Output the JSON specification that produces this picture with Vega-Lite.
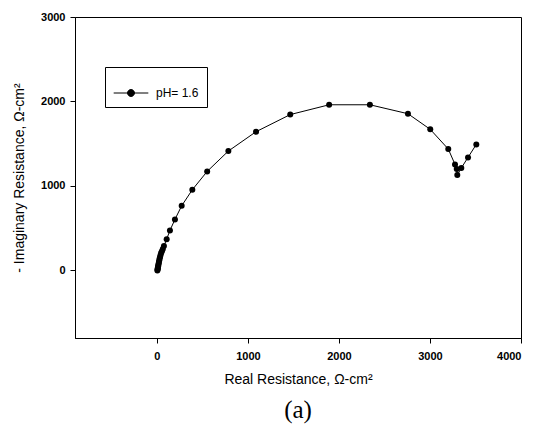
{
  "$schema": "https://vega.github.io/schema/vega-lite/v6.json",
  "autosize": {"type": "none"},
  "width": 446,
  "height": 321,
  "padding": {"left": 75, "top": 17, "right": 14, "bottom": 89},
  "background": "white",
  "config": {
    "view": {"stroke": "black", "strokeWidth": 1},
    "font": "Liberation Sans"
  },
  "title": {
    "text": "(a)",
    "orient": "bottom",
    "font": "Liberation Serif",
    "fontSize": 25,
    "fontWeight": "normal",
    "color": "black",
    "offset": 12
  },
  "data": {
    "values": [
      {"i": 1, "x": 5, "y": 0, "series": "pH= 1.6"},
      {"i": 2, "x": 7, "y": 10, "series": "pH= 1.6"},
      {"i": 3, "x": 9, "y": 22, "series": "pH= 1.6"},
      {"i": 4, "x": 11, "y": 35, "series": "pH= 1.6"},
      {"i": 5, "x": 13, "y": 50, "series": "pH= 1.6"},
      {"i": 6, "x": 16, "y": 65, "series": "pH= 1.6"},
      {"i": 7, "x": 19, "y": 82, "series": "pH= 1.6"},
      {"i": 8, "x": 22, "y": 100, "series": "pH= 1.6"},
      {"i": 9, "x": 26, "y": 120, "series": "pH= 1.6"},
      {"i": 10, "x": 30, "y": 140, "series": "pH= 1.6"},
      {"i": 11, "x": 35, "y": 162, "series": "pH= 1.6"},
      {"i": 12, "x": 40, "y": 182, "series": "pH= 1.6"},
      {"i": 13, "x": 46, "y": 205, "series": "pH= 1.6"},
      {"i": 14, "x": 55, "y": 228, "series": "pH= 1.6"},
      {"i": 15, "x": 65, "y": 255, "series": "pH= 1.6"},
      {"i": 16, "x": 77, "y": 288, "series": "pH= 1.6"},
      {"i": 17, "x": 107, "y": 370, "series": "pH= 1.6"},
      {"i": 18, "x": 143, "y": 473, "series": "pH= 1.6"},
      {"i": 19, "x": 198, "y": 604, "series": "pH= 1.6"},
      {"i": 20, "x": 272, "y": 765, "series": "pH= 1.6"},
      {"i": 21, "x": 389, "y": 955, "series": "pH= 1.6"},
      {"i": 22, "x": 552, "y": 1172, "series": "pH= 1.6"},
      {"i": 23, "x": 785, "y": 1413, "series": "pH= 1.6"},
      {"i": 24, "x": 1089, "y": 1642, "series": "pH= 1.6"},
      {"i": 25, "x": 1465, "y": 1845, "series": "pH= 1.6"},
      {"i": 26, "x": 1892, "y": 1961, "series": "pH= 1.6"},
      {"i": 27, "x": 2340, "y": 1961, "series": "pH= 1.6"},
      {"i": 28, "x": 2758, "y": 1855, "series": "pH= 1.6"},
      {"i": 29, "x": 3003, "y": 1670, "series": "pH= 1.6"},
      {"i": 30, "x": 3201, "y": 1437, "series": "pH= 1.6"},
      {"i": 31, "x": 3275, "y": 1255, "series": "pH= 1.6"},
      {"i": 32, "x": 3294, "y": 1200, "series": "pH= 1.6"},
      {"i": 33, "x": 3300, "y": 1129, "series": "pH= 1.6"},
      {"i": 34, "x": 3344, "y": 1212, "series": "pH= 1.6"},
      {"i": 35, "x": 3418, "y": 1338, "series": "pH= 1.6"},
      {"i": 36, "x": 3509, "y": 1492, "series": "pH= 1.6"}
    ]
  },
  "mark": {
    "type": "line",
    "strokeWidth": 1,
    "point": {"filled": true, "size": 36, "color": "black", "opacity": 1}
  },
  "encoding": {
    "x": {
      "field": "x",
      "type": "quantitative",
      "scale": {"domain": [-900, 4000], "nice": false, "zero": false},
      "axis": {
        "title": "Real Resistance, Ω-cm²",
        "values": [0, 1000, 2000, 3000, 4000],
        "format": "d",
        "grid": false,
        "domainColor": "black",
        "tickColor": "black",
        "tickSize": 5,
        "labelFont": "Liberation Sans",
        "labelFontSize": 11,
        "labelFontWeight": "bold",
        "labelColor": "black",
        "labelPadding": 7,
        "titleFont": "Liberation Sans",
        "titleFontSize": 14,
        "titleFontWeight": "normal",
        "titleColor": "black",
        "titlePadding": 11
      }
    },
    "y": {
      "field": "y",
      "type": "quantitative",
      "scale": {"domain": [-800, 3000], "nice": false, "zero": false},
      "axis": {
        "title": "- Imaginary Resistance, Ω-cm²",
        "values": [0, 1000, 2000, 3000],
        "format": "d",
        "grid": false,
        "domainColor": "black",
        "tickColor": "black",
        "tickSize": 5,
        "labelFont": "Liberation Sans",
        "labelFontSize": 11,
        "labelFontWeight": "bold",
        "labelColor": "black",
        "labelPadding": 5,
        "titleFont": "Liberation Sans",
        "titleFontSize": 14,
        "titleFontWeight": "normal",
        "titleColor": "black",
        "titlePadding": 14
      }
    },
    "order": {"field": "i", "type": "quantitative"},
    "color": {
      "field": "series",
      "type": "nominal",
      "scale": {"range": ["black"]},
      "legend": {
        "title": null,
        "orient": "none",
        "legendX": 30,
        "legendY": 50,
        "padding": 8,
        "strokeColor": "black",
        "fillColor": "white",
        "symbolType": "M-1,0H1M-0.2,0a0.2,0.2 0 1,0 0.4,0a0.2,0.2 0 1,0 -0.4,0",
        "symbolSize": 1200,
        "symbolStrokeWidth": 1,
        "symbolFillColor": "black",
        "symbolStrokeColor": "black",
        "labelFont": "Liberation Sans",
        "labelFontSize": 12,
        "labelColor": "black",
        "labelOffset": 7
      }
    }
  }
}
